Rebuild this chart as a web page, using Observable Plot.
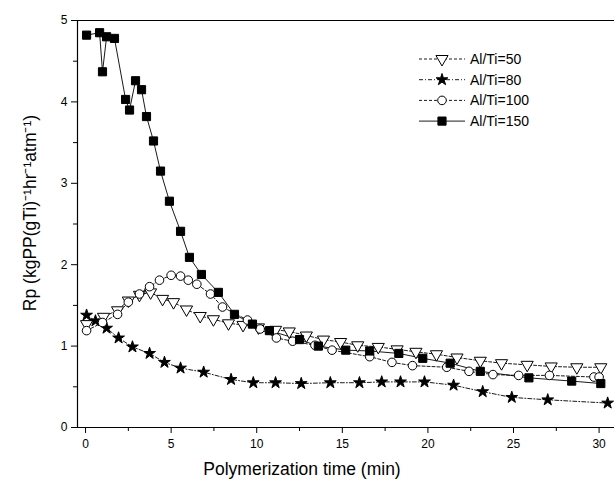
<!DOCTYPE html>
<html>
<head>
<meta charset="utf-8">
<script src="https://cdn.jsdelivr.net/npm/d3@7"></script>
<script src="https://cdn.jsdelivr.net/npm/@observablehq/plot@0.6"></script>
<style>
  html, body { margin: 0; padding: 0; background: #fff; }
  #wrap { position: relative; width: 614px; height: 487px; }
  #legend { position: absolute; left: 410px; top: 46px; }
  text { font-family: "Liberation Sans", Arial, sans-serif; }
</style>
</head>
<body>
<div id="wrap"></div>
<script>
// ---- data ----
const series = ["Al/Ti=50", "Al/Ti=80", "Al/Ti=100", "Al/Ti=150"];

const t50 = [0.06, 1.05, 1.87, 2.5, 3.15, 3.8, 4.5, 5.14, 5.9, 6.7, 7.47, 8.35, 9.2, 10.1, 11.1, 11.9, 12.9, 13.9, 14.9, 15.9, 17.1, 18.2, 19.3, 20.5, 21.7, 23.06, 24.3, 25.8, 27.2, 28.7, 30.1];
const v50 = [1.27, 1.36, 1.44, 1.56, 1.63, 1.66, 1.58, 1.54, 1.45, 1.37, 1.33, 1.28, 1.26, 1.23, 1.20, 1.18, 1.13, 1.08, 1.05, 1.01, 0.99, 0.96, 0.93, 0.90, 0.86, 0.82, 0.79, 0.77, 0.75, 0.74, 0.74];

const t80 = [0.06, 0.58, 1.23, 1.93, 2.74, 3.74, 4.61, 5.55, 6.9, 8.5, 9.8, 11.1, 12.6, 14.3, 16.0, 17.3, 18.4, 19.8, 21.5, 23.2, 24.9, 27.0, 30.5];
const v80 = [1.38, 1.31, 1.22, 1.10, 0.99, 0.91, 0.80, 0.73, 0.68, 0.59, 0.55, 0.55, 0.54, 0.55, 0.55, 0.56, 0.56, 0.56, 0.52, 0.44, 0.37, 0.34, 0.30];

const t100 = [0.06, 0.99, 1.87, 2.5, 3.15, 3.74, 4.32, 5.0, 5.55, 6.0, 6.5, 7.3, 8.0, 9.46, 10.2, 11.15, 12.1, 13.4, 14.4, 16.6, 17.9, 19.1, 21.1, 22.4, 23.8, 25.3, 27.1, 29.7, 30.0];
const v100 = [1.19, 1.29, 1.39, 1.54, 1.64, 1.73, 1.81, 1.87, 1.86, 1.81, 1.76, 1.64, 1.48, 1.32, 1.21, 1.10, 1.06, 1.01, 0.95, 0.87, 0.80, 0.76, 0.74, 0.69, 0.65, 0.64, 0.64, 0.62, 0.62];

const t150 = [0.06, 0.82, 0.99, 1.23, 1.69, 2.34, 2.57, 2.92, 3.27, 3.56, 3.97, 4.38, 4.90, 5.55, 6.07, 6.77, 7.76, 8.7, 9.75, 10.74, 12.5, 13.6, 15.2, 16.6, 18.3, 19.7, 21.3, 23.06, 25.9, 28.4, 30.1];
const v150 = [4.82, 4.85, 4.37, 4.80, 4.78, 4.03, 3.90, 4.26, 4.15, 3.82, 3.52, 3.15, 2.78, 2.41, 2.09, 1.88, 1.66, 1.39, 1.27, 1.19, 1.08, 1.00, 0.95, 0.94, 0.91, 0.85, 0.79, 0.69, 0.61, 0.57, 0.54];

const yTicks = [0, 1, 2, 3, 4, 5];
const yMinor = [0.5, 1.5, 2.5, 3.5, 4.5];
const xTicks = [0, 5, 10, 15, 20, 25, 30];
const xMinor = [2.5, 7.5, 12.5, 17.5, 22.5, 27.5];
const xDomain = [-0.47, 30.9];
const yDomain = [0, 5];

const xTitle = "Polymerization time (min)";
const yTitle = "Rp (kgPP(gTi)\u207B\u00B9hr\u207B\u00B9atm\u207B\u00B9)";

// ---- styles per series ----
const style = {
  "Al/Ti=50":  {symbol: "triangle", rotate: 180, fill: "white", r: 4.5, dash: "3,2"},
  "Al/Ti=80":  {symbol: "star", rotate: 0, fill: "black", r: 3.7, dash: "4,2,1,2"},
  "Al/Ti=100": {symbol: "circle", rotate: 0, fill: "white", r: 4.3, dash: "3,2"},
  "Al/Ti=150": {symbol: "square", rotate: 0, fill: "black", r: 4.6, dash: null}
};

function rows(name, ts, vs) { return ts.map((t, i) => ({series: name, t, v: vs[i]})); }
const tables = {
  "Al/Ti=50": rows("Al/Ti=50", t50, v50),
  "Al/Ti=80": rows("Al/Ti=80", t80, v80),
  "Al/Ti=100": rows("Al/Ti=100", t100, v100),
  "Al/Ti=150": rows("Al/Ti=150", t150, v150)
};

const lineMarks = series.map(s => Plot.line(tables[s], {
  x: "t", y: "v", stroke: "black", strokeWidth: 0.9,
  strokeDasharray: style[s].dash
}));
const dotMarks = series.map(s => Plot.dot(tables[s], {
  x: "t", y: "v", symbol: () => style[s].symbol, r: style[s].r,
  rotate: style[s].rotate, fill: style[s].fill, stroke: "black", strokeWidth: 1
}));

const chart = Plot.plot({
  width: 614, height: 487,
  marginLeft: 77, marginRight: 0, marginTop: 20, marginBottom: 60,
  style: {fontFamily: "Liberation Sans, Arial, sans-serif", fontSize: "12px", background: "white"},
  x: {domain: xDomain},
  y: {domain: yDomain},
  symbol: {type: "identity"},
  marks: [
    Plot.ruleY([yDomain[0]], {stroke: "black", strokeWidth: 1.2}),
    Plot.ruleY([yDomain[1]], {stroke: "black", strokeWidth: 1.2}),
    Plot.ruleX([xDomain[0]], {stroke: "black", strokeWidth: 1.2}),
    Plot.axisY({ticks: yTicks, tickFormat: "d", tickSize: 6, tickPadding: 4, label: null, fontSize: 12}),
    Plot.axisY({ticks: yMinor, tickSize: 4, tickFormat: () => "", label: null}),
    Plot.axisX({ticks: xTicks, tickFormat: "d", tickSize: 6, tickPadding: 6, label: null, fontSize: 12}),
    Plot.axisX({ticks: xMinor, tickSize: 4, tickFormat: () => "", label: null}),
    ...lineMarks,
    ...dotMarks,
    Plot.text([xTitle], {frameAnchor: "bottom", dx: -44, dy: 47, fontSize: 17.5, textAnchor: "middle"}),
    Plot.text([yTitle], {frameAnchor: "left", dx: -47, dy: -11, rotate: -90, fontSize: 17.5, textAnchor: "middle"})
  ]
});
const wrap = document.getElementById("wrap");
wrap.appendChild(chart);

// ---- legend (overlay) ----
const rowGap = 20.7;
const leg = d3.select(wrap).append("svg").attr("id", "legend")
  .attr("width", 170).attr("height", 90);
series.forEach((s, i) => {
  const g = leg.append("g").attr("transform", `translate(0,${13 + i * rowGap})`);
  g.append("line").attr("x1", 9).attr("x2", 55).attr("y1", 0).attr("y2", 0)
    .attr("stroke", "black").attr("stroke-width", 0.9)
    .attr("stroke-dasharray", style[s].dash);
  const types = {triangle: d3.symbolTriangle, star: d3.symbolStar, circle: d3.symbolCircle, square: d3.symbolSquare};
  g.append("path")
    .attr("d", d3.symbol().type(types[style[s].symbol]).size(Math.PI * style[s].r * style[s].r)())
    .attr("transform", `translate(32,0) rotate(${style[s].rotate})`)
    .attr("fill", style[s].fill).attr("stroke", "black").attr("stroke-width", 1);
  g.append("text").attr("x", 60).attr("y", 0).attr("dy", "0.35em")
    .attr("font-size", 14).text(s);
});
</script>
</body>
</html>
